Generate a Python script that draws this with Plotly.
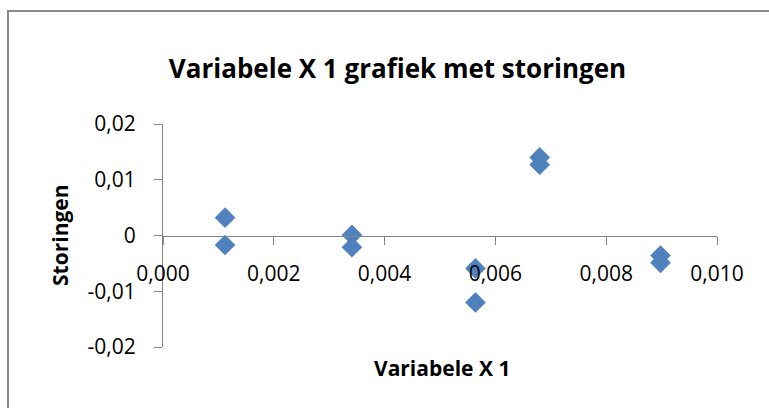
import plotly.graph_objects as go

# Residuals (storingen) plotted against the explanatory variable X 1
variabele_x1 = [0.00112, 0.00112, 0.00341, 0.00341, 0.00564, 0.00564,
                0.00680, 0.00680, 0.00898, 0.00898]
storingen = [0.0032, -0.0017, 0.0001, -0.0021, -0.0059, -0.0120,
             0.0140, 0.0127, -0.0036, -0.0049]

x_tickvals = [0.0, 0.002, 0.004, 0.006, 0.008, 0.010]
x_ticktext = ["0,000", "0,002", "0,004", "0,006", "0,008", "0,010"]
y_tickvals = [-0.02, -0.01, 0.0, 0.01, 0.02]
y_ticktext = ["-0,02", "-0,01", "0", "0,01", "0,02"]

title_text = "Variabele X 1 grafiek met storingen"
x_title = "Variabele X 1"
y_title = "Storingen"

FONT = "Open Sans"
AXIS_GREY = "#868686"
MARKER_BLUE = "#4F81BD"

fig = go.Figure()
fig.add_trace(go.Scatter(
    x=variabele_x1,
    y=storingen,
    mode="markers",
    marker=dict(symbol="diamond", size=15.5, color=MARKER_BLUE,
                line=dict(color="#4A7EBB", width=0.5)),
    cliponaxis=False,
    showlegend=False,
))

fig.update_layout(
    width=769,
    height=408,
    margin=dict(l=163, r=52, t=124, b=61),
    paper_bgcolor="white",
    plot_bgcolor="white",
    font=dict(family=FONT, color="black"),
    title=dict(text=title_text, x=397.5 / 769, xanchor="center",
               y=1 - 69 / 408, yanchor="middle",
               font=dict(family=FONT, size=26, color="black", weight="bold")),
    xaxis=dict(
        range=[0, 0.010],
        anchor="free",
        position=0.5,
        showline=True, linecolor=AXIS_GREY, linewidth=1,
        ticks="outside", ticklen=8, tickcolor=AXIS_GREY, tickwidth=1,
        tickvals=x_tickvals, ticktext=x_ticktext,
        tickfont=dict(family=FONT, size=21, color="black"),
        ticklabelstandoff=11,
        showgrid=False, zeroline=False,
    ),
    yaxis=dict(
        range=[-0.02, 0.02],
        showline=True, linecolor=AXIS_GREY, linewidth=1,
        ticks="outside", ticklen=8, tickcolor=AXIS_GREY, tickwidth=1,
        tickvals=y_tickvals, ticktext=y_ticktext,
        tickfont=dict(family=FONT, size=21, color="black"),
        ticklabelstandoff=14,
        showgrid=False, zeroline=False,
    ),
    shapes=[dict(type="rect", xref="paper", yref="paper",
                 x0=(8 - 163) / 554, x1=1.2, y0=-0.5, y1=1 + (124 - 11) / 223,
                 line=dict(color="#8C8C8C", width=2), layer="below")],
    annotations=[
        dict(text=x_title, xref="paper", yref="paper",
             x=(441.5 - 163) / 554, y=(347 - 368) / 223,
             xanchor="center", yanchor="middle", showarrow=False,
             font=dict(family=FONT, size=21, color="black", weight="bold")),
        dict(text=y_title, xref="paper", yref="paper",
             x=(60 - 163) / 554, y=(347 - 235) / 223,
             xanchor="center", yanchor="middle", showarrow=False,
             textangle=-90,
             font=dict(family=FONT, size=21, color="black", weight="bold")),
    ],
)

fig.write_html("out.html")
